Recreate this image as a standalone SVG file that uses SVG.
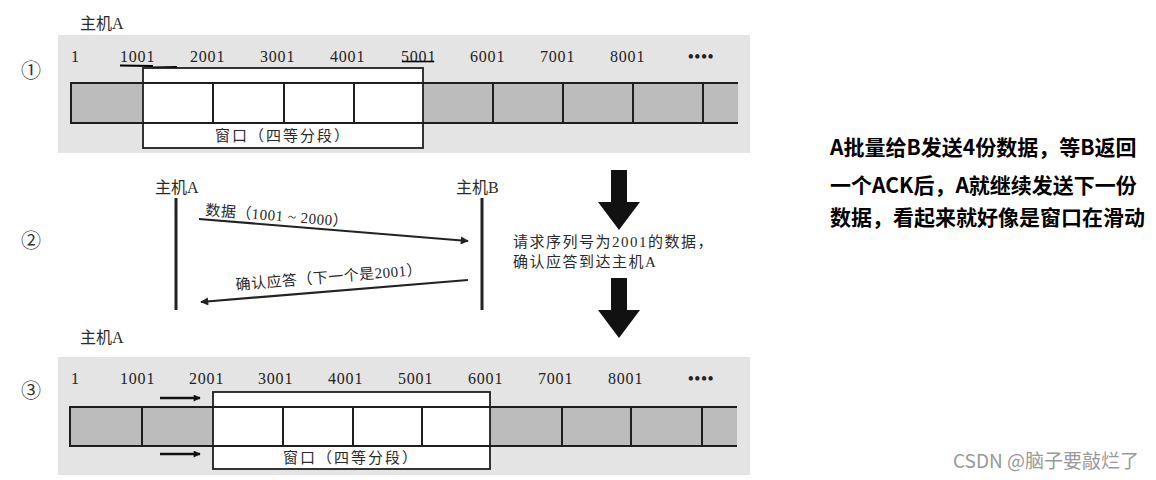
<svg xmlns="http://www.w3.org/2000/svg" width="1156" height="480" viewBox="0 0 1156 480">
<style>
.bg{fill:#e4e4e4}
.cell{fill:#bcbcbc}
.ln{stroke:#1e1e1e;stroke-width:2;fill:none}
.win{fill:#fff;stroke:#1e1e1e;stroke-width:1.8}
.num{font-family:"Liberation Serif","Noto Sans CJK SC",serif;font-size:16px;fill:#222;letter-spacing:0.8px}
.cn{font-family:"Liberation Serif","Noto Sans CJK SC",serif;font-size:15px;fill:#2a2a2a}
.circ{font-family:"Noto Sans CJK SC","DejaVu Sans",sans-serif;font-size:20px;fill:#333}
.note{font-family:"Noto Sans CJK SC",sans-serif;font-size:21px;font-weight:bold;fill:#000}
.wm{font-family:"Noto Sans CJK SC",sans-serif;font-size:19px;fill:#999}
</style>
<defs>
<marker id="ah" viewBox="0 0 10 10" refX="9" refY="5" markerWidth="13" markerHeight="7" orient="auto" markerUnits="userSpaceOnUse">
<path d="M0,0 L10,5 L0,10 z" fill="#111"/>
</marker>
<marker id="ah2" viewBox="0 0 10 10" refX="9" refY="5" markerWidth="12" markerHeight="8" orient="auto" markerUnits="userSpaceOnUse">
<path d="M0,0 L10,5 L0,10 z" fill="#222"/>
</marker>
</defs>
<rect width="1156" height="480" fill="#fff"/>

<g id="panel1">
<text class="cn" x="80" y="29" style="font-size:16px">主机A</text>
<text class="circ" x="21" y="78">①</text>
<rect class="bg" x="58" y="35" width="692" height="118"/>
<text class="num" x="71" y="62">1</text>
<text class="num" x="120" y="62">1001</text>
<text class="num" x="190" y="62">2001</text>
<text class="num" x="260" y="62">3001</text>
<text class="num" x="330" y="62">4001</text>
<text class="num" x="401" y="62">5001</text>
<text class="num" x="470" y="62">6001</text>
<text class="num" x="540" y="62">7001</text>
<text class="num" x="610" y="62">8001</text>
<text class="num" x="688" y="62" style="font-weight:bold;letter-spacing:1px">••••</text>
<path d="M120,65.5 L153,66 M153,67.5 L177,67" stroke="#000" stroke-width="1.8" fill="none"/>
<path d="M402,61.5 L434,61.5" stroke="#000" stroke-width="1.6"/>
<rect class="cell" x="71" y="83" width="667" height="40"/>
<rect class="win" x="143" y="68" width="280" height="80"/>
<path class="ln" d="M738,83 H71 V123 H738 M213,83 V123 M284,83 V123 M354,83 V123 M493,83 V123 M563,83 V123 M633,83 V123 M703,83 V123"/>
<text class="cn" x="283" y="141" text-anchor="middle" style="letter-spacing:2px">窗口（四等分段）</text>
</g>

<g id="panel2">
<text class="circ" x="21" y="248">②</text>
<text class="cn" x="155" y="193" style="font-size:16px">主机A</text>
<text class="cn" x="456" y="193" style="font-size:16px">主机B</text>
<text class="cn" x="513" y="247" style="letter-spacing:1.5px">请求序列号为2001的数据，</text>
<text class="cn" x="513" y="267" style="letter-spacing:1.5px">确认应答到达主机A</text>
<text class="cn" transform="translate(205,215) rotate(4.7)" style="letter-spacing:0.5px">数据（1001 ~ 2000）</text>
<text class="cn" transform="translate(236,290) rotate(-4.7)" style="letter-spacing:0.5px">确认应答（下一个是2001）</text>
</g>

<g id="bigarrows">
<path d="M611,170 H627 V202 H640 L619,230 L598,202 H611 Z" fill="#111"/>
<path d="M611,278 H627 V310 H640 L619,338 L598,310 H611 Z" fill="#111"/>
</g>

<g id="panel3">
<text class="cn" x="80" y="343" style="font-size:16px">主机A</text>
<text class="circ" x="21" y="398">③</text>
<rect class="bg" x="58" y="357" width="692" height="118"/>
<text class="num" x="71" y="384">1</text>
<text class="num" x="120" y="384">1001</text>
<text class="num" x="189" y="384">2001</text>
<text class="num" x="258" y="384">3001</text>
<text class="num" x="328" y="384">4001</text>
<text class="num" x="398" y="384">5001</text>
<text class="num" x="468" y="384">6001</text>
<text class="num" x="538" y="384">7001</text>
<text class="num" x="608" y="384">8001</text>
<text class="num" x="688" y="384" style="font-weight:bold;letter-spacing:1px">••••</text>
<rect class="cell" x="70" y="407" width="667" height="39"/>
<rect class="win" x="213" y="392" width="277" height="77"/>
<path class="ln" d="M737,407 H70 V446 H737 M142,407 V446 M283,407 V446 M353,407 V446 M422,407 V446 M562,407 V446 M631,407 V446 M702,407 V446"/>
<text class="cn" x="351" y="463" text-anchor="middle" style="letter-spacing:2px">窗口（四等分段）</text>
</g>

<g id="connectors">
<line x1="176" y1="198" x2="176" y2="310" stroke="#222" stroke-width="3"/>
<line x1="482" y1="198" x2="482" y2="310" stroke="#222" stroke-width="3"/>
<line x1="199" y1="219" x2="468" y2="241" stroke="#222" stroke-width="2.2" marker-end="url(#ah2)"/>
<line x1="468" y1="280" x2="201" y2="302" stroke="#222" stroke-width="2.2" marker-end="url(#ah2)"/>
<line x1="160" y1="398" x2="200" y2="398" stroke="#111" stroke-width="2.4" marker-end="url(#ah)"/>
<line x1="160" y1="454" x2="200" y2="454" stroke="#111" stroke-width="2.4" marker-end="url(#ah)"/>
</g>

<g id="note">
<text class="note" x="830" y="155">A批量给B发送4份数据，等B返回</text>
<text class="note" x="830" y="193">一个ACK后，A就继续发送下一份</text>
<text class="note" x="830" y="225">数据，看起来就好像是窗口在滑动</text>
</g>

<text class="wm" x="953" y="468">CSDN @脑子要敲烂了</text>
</svg>
